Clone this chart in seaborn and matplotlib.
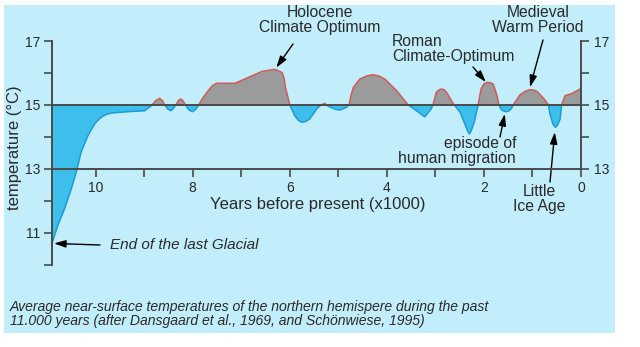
import numpy as np
import pandas as pd
import matplotlib
matplotlib.use("Agg")
import matplotlib.pyplot as plt
from matplotlib.patches import Rectangle
import seaborn as sns

# ---------------- data ----------------
years_kyr = [10.90, 10.78, 10.64, 10.50, 10.40, 10.30, 10.16, 10.02, 9.93, 9.85,
             9.77, 9.68, 9.33, 8.99, 8.85, 8.76, 8.68, 8.62, 8.58, 8.51,
             8.45, 8.40, 8.35, 8.30, 8.25, 8.20, 8.15, 8.08, 8.01, 7.94,
             7.88, 7.80, 7.68, 7.60, 7.51, 7.13, 6.86, 6.58, 6.31, 6.16,
             6.12, 6.09, 6.04, 6.00, 5.90, 5.83, 5.76, 5.68, 5.59, 5.45,
             5.36, 5.28, 5.22, 5.07, 4.97, 4.83, 4.78, 4.74, 4.69, 4.56,
             4.42, 4.28, 4.15, 4.04, 3.80, 3.56, 3.39, 3.22, 3.09, 3.05,
             2.98, 2.92, 2.87, 2.82, 2.77, 2.65, 2.49, 2.38, 2.34, 2.30,
             2.26, 2.20, 2.12, 2.06, 2.00, 1.94, 1.87, 1.81, 1.74, 1.69,
             1.64, 1.58, 1.53, 1.48, 1.43, 1.40, 1.26, 1.15, 1.05, 0.98,
             0.91, 0.76, 0.67, 0.64, 0.58, 0.55, 0.52, 0.48, 0.43, 0.40,
             0.33, 0.19, 0.02, 0.00]
temperature = [10.66, 11.23, 11.75, 12.38, 12.90, 13.52, 14.04, 14.41, 14.56, 14.65,
               14.71, 14.75, 14.79, 14.82, 14.98, 15.14, 15.21, 15.13, 15.00, 14.87,
               14.82, 14.89, 15.00, 15.13, 15.19, 15.13, 15.00, 14.85, 14.79, 14.86,
               15.00, 15.20, 15.45, 15.60, 15.68, 15.68, 15.86, 16.05, 16.12, 16.02,
               15.85, 15.55, 15.25, 15.00, 14.67, 14.53, 14.46, 14.48, 14.56, 14.87,
               15.00, 15.05, 14.97, 14.87, 14.84, 14.93, 15.00, 15.30, 15.55, 15.81,
               15.91, 15.95, 15.90, 15.81, 15.45, 15.00, 14.82, 14.63, 14.87, 15.00,
               15.40, 15.48, 15.50, 15.48, 15.40, 15.08, 14.77, 14.35, 14.20, 14.09,
               14.20, 14.46, 15.00, 15.50, 15.66, 15.71, 15.70, 15.66, 15.34, 15.00,
               14.85, 14.80, 14.79, 14.82, 14.90, 15.00, 15.31, 15.43, 15.48, 15.47,
               15.43, 15.19, 15.00, 14.72, 14.41, 14.34, 14.30, 14.38, 14.56, 15.00,
               15.29, 15.36, 15.50, 15.55]
reference_temp = 15
x_major_ticks = [10, 8, 6, 4, 2, 0]
x_minor_ticks = [9, 7, 5, 3, 1]
left_major_ticks = [11, 13, 15, 17]
left_minor_ticks = [10, 12, 14, 16]
right_major_ticks = [13, 15, 17]
right_minor_ticks = [14, 16]

df = pd.DataFrame({"kyr": years_kyr, "temp": temperature})

# ---------------- styling ----------------
sns.set_style("white")
plt.rcParams["font.family"] = ["Liberation Sans", "DejaVu Sans"]

W, H = 640, 347
BG = "#c2edfa"
CYAN = "#3dbfec"
CYAN_EDGE = "#1f9ad6"
GREY = "#9b9b9b"
RED_EDGE = "#d35a5a"
AXC = "#4a4a4a"
TXT = "#2a2a2a"

fig = plt.figure(figsize=(W / 100, H / 100), dpi=100, facecolor="white")


def fpx(x, y):
    return (x / W, 1 - y / H)


# light blue panel
fig.patches.append(Rectangle((4 / W, 1 - 333 / H), 611 / W, 328 / H,
                             transform=fig.transFigure, facecolor=BG,
                             edgecolor="none", zorder=-10))

X0, X1 = 10.9, 0.0
Y0, Y1 = 10.0, 17.0
ax_l, ax_r = 52, 581
ax_t, ax_b = 41.2, 264.5
ax = fig.add_axes([ax_l / W, 1 - ax_b / H, (ax_r - ax_l) / W, (ax_b - ax_t) / H])
ax.patch.set_alpha(0)
ax.set_xlim(X0, X1)
ax.set_ylim(Y0, Y1)

t = np.array(temperature)
k = np.array(years_kyr)
ax.fill_between(k, t, reference_temp, where=t >= reference_temp, interpolate=True,
                color=GREY, lw=0, zorder=2)
ax.fill_between(k, t, reference_temp, where=t <= reference_temp, interpolate=True,
                color=CYAN, lw=0, zorder=2)

# outline: red above 15, blue below 15 (same curve, clipped)
sns.lineplot(data=df, x="kyr", y="temp", ax=ax, color=RED_EDGE, lw=1.1,
             zorder=3, sort=False)
sns.lineplot(data=df, x="kyr", y="temp", ax=ax, color=CYAN_EDGE, lw=1.1,
             zorder=3, sort=False)
lines = ax.get_lines()
clip_hi = Rectangle((X0, reference_temp), X1 - X0, Y1 - reference_temp + 5,
                    transform=ax.transData)
clip_lo = Rectangle((X0, Y0 - 5), X1 - X0, reference_temp - Y0 + 5,
                    transform=ax.transData)
lines[0].set_clip_path(clip_hi)
lines[1].set_clip_path(clip_lo)
for ln in lines[:2]:
    ln.set_solid_joinstyle("round")

ax.hlines(reference_temp, X0, X1, color=AXC, lw=1.4, zorder=4)

# spines / axes
ax.spines["top"].set_visible(False)
ax.spines["right"].set_visible(False)
ax.spines["left"].set_bounds(Y0, Y1)
ax.spines["left"].set_color(AXC)
ax.spines["left"].set_linewidth(1.4)
ax.spines["bottom"].set_position(("data", 13))
ax.spines["bottom"].set_bounds(X1, X0)
ax.spines["bottom"].set_color(AXC)
ax.spines["bottom"].set_linewidth(1.4)
ax.spines["left"].set_zorder(5)
ax.spines["bottom"].set_zorder(5)

ax.set_xticks(x_major_ticks)
ax.set_xticks(x_minor_ticks, minor=True)
ax.set_xticklabels([str(v) for v in x_major_ticks])
ax.set_yticks(left_major_ticks)
ax.set_yticks(left_minor_ticks, minor=True)
ax.set_yticklabels([str(v) for v in left_major_ticks])
ax.tick_params(axis="both", which="both", direction="out", length=6,
               width=1.2, color=AXC, labelcolor=TXT, labelsize=10)
ax.tick_params(axis="x", which="both", pad=3, bottom=True)
ax.tick_params(axis="y", which="both", pad=2.5, left=True)
ax.set_xlabel("")
ax.set_ylabel("")

ax2 = ax.twinx()
ax2.set_ylim(Y0, Y1)
for s in ["top", "bottom", "left"]:
    ax2.spines[s].set_visible(False)
ax2.spines["right"].set_bounds(13, Y1)
ax2.spines["right"].set_color(AXC)
ax2.spines["right"].set_linewidth(1.4)
ax2.set_yticks(right_major_ticks)
ax2.set_yticks(right_minor_ticks, minor=True)
ax2.set_yticklabels([str(v) for v in right_major_ticks])
ax2.tick_params(axis="y", which="both", direction="out", length=6, width=1.2,
                color=AXC, labelcolor=TXT, labelsize=10, pad=3, right=True)

# axis titles
fig.text(*fpx(318, 205), "Years before present (x1000)", ha="center",
         va="center", fontsize=12, color=TXT)
fig.text(*fpx(15, 148), "temperature (°C)", ha="center", va="center",
         rotation=90, fontsize=12, color=TXT)

# annotation texts
lab_kw = dict(fontsize=11.3, color=TXT, va="center", linespacing=1.0)
fig.text(*fpx(320, 20), "Holocene\nClimate Optimum", ha="center", **lab_kw)
fig.text(*fpx(392, 49), "Roman\nClimate-Optimum", ha="left", **lab_kw)
fig.text(*fpx(538, 20), "Medieval\nWarm Period", ha="center", **lab_kw)
fig.text(*fpx(516, 151), "episode of\nhuman migration", ha="right", **lab_kw)
fig.text(*fpx(539, 199), "Little\nIce Age", ha="center", **lab_kw)
fig.text(*fpx(110, 245), "End of the last Glacial", ha="left", va="center",
         fontsize=11, style="italic", color=TXT)

arrow_kw = dict(arrowstyle="-|>,head_length=0.7,head_width=0.22", color="black",
                lw=1.0, shrinkA=0, shrinkB=0)


def arrow(head_data, tail_px):
    ax.annotate("", xy=head_data, xycoords="data",
                xytext=(tail_px[0], H - tail_px[1]), textcoords="figure pixels",
                arrowprops=arrow_kw, annotation_clip=False)


arrow((6.28, 16.17), (293, 44))
arrow((1.96, 15.72), (473, 67))
arrow((1.05, 15.56), (543, 40))
arrow((1.57, 14.72), (500, 137))
arrow((0.54, 14.15), (550, 182))
arrow((10.86, 10.66), (100, 245))

# caption
fig.text(*fpx(10, 314), "Average near-surface temperatures of the northern hemispere during the past\n"
         "11.000 years (after Dansgaard et al., 1969, and Schönwiese, 1995)",
         ha="left", va="center", fontsize=10.1, style="italic", color=TXT,
         linespacing=0.98)

fig.savefig("out.png", dpi=100, facecolor="white")
